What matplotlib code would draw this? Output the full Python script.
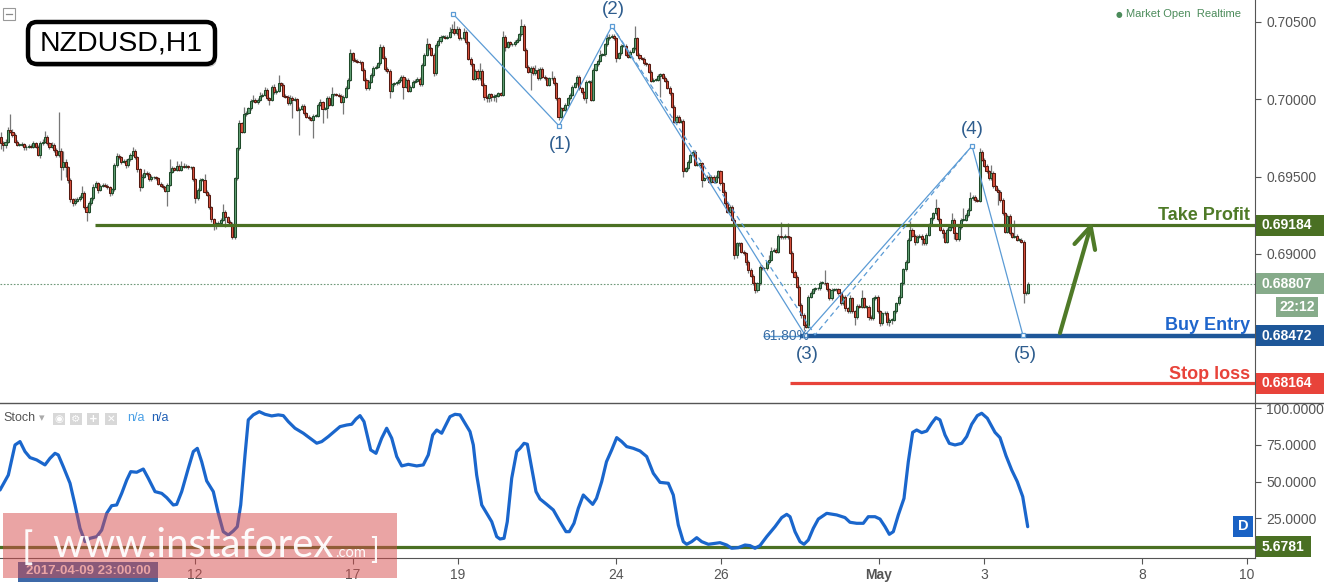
import numpy as np
import matplotlib
matplotlib.use("Agg")
import matplotlib.pyplot as plt
from matplotlib.patches import Rectangle, FancyBboxPatch
from matplotlib.lines import Line2D
from matplotlib.transforms import IdentityTransform

plt.rcParams['font.family'] = ['Liberation Sans', 'DejaVu Sans']

W, H = 1324, 582

# ---------------- data ----------------
PRICE_BASE = 0.68
PIP = 0.0001
FIRST_OPEN_PIPS = 175.9
# hourly closes, in pips above 0.68000
close_seg1 = [171.6, 170.5, 172.6, 180.2, 179.1, 176.9, 172.6, 170.5, 170.5, 170.9,
              169.0, 169.4, 169.8, 169.2, 171.6, 169.4, 164.0, 171.6, 172.6, 175.4,
              171.6, 169.4, 170.5, 167.2, 164.0, 166.8, 156.0, 159.7, 156.0, 147.9,
              135.4, 132.8, 134.5, 135.4, 137.1, 139.7, 130.6, 127.4, 132.8, 136.0,
              143.5, 145.7, 141.4, 144.0, 144.6, 144.2, 143.1, 139.2, 141.8, 157.5,
              163.4, 162.5, 159.7, 160.1, 157.5, 161.2, 164.0, 166.8, 162.5, 154.7,
              143.5, 150.0, 152.6, 151.7, 148.3, 149.6, 149.6, 149.0, 145.3, 144.0,
              143.1, 141.0, 144.6, 153.2, 155.4, 154.3, 156.9, 154.3, 156.9, 156.5,
              156.8, 156.0, 156.0, 148.3, 136.0, 141.4, 147.9, 147.9, 140.3, 138.2,
              130.2, 122.4, 119.4, 119.4, 120.0, 122.0, 127.4, 123.7, 120.9, 119.4,
              110.8, 148.9, 168.3, 184.5, 179.1, 190.3, 191.4, 194.2, 199.1, 199.6,
              198.5]
close_seg2 = [199.6, 202.4, 202.8, 206.0, 200.7, 199.6, 208.2, 204.5, 205.4, 210.4,
              209.3, 202.4, 201.7, 197.4, 201.1, 199.6, 200.0, 193.1, 193.8, 195.9,
              191.0, 188.8, 187.7, 186.7, 189.5, 189.5, 196.4, 198.1, 193.8, 194.2,
              201.1, 196.4, 203.2, 203.2, 202.8, 202.4, 198.5, 201.7, 207.6, 212.5,
              229.8, 225.4, 224.8, 224.4, 223.9, 219.0, 212.5, 207.1, 211.4, 215.7,
              220.5, 221.1, 223.3, 234.1, 227.0, 219.6, 218.3, 205.4, 209.7, 210.4,
              211.0, 212.5, 214.7, 208.2, 212.5, 205.4, 208.2, 211.4, 211.9, 213.2,
              209.7, 222.2, 228.7, 235.6, 233.0, 228.7, 216.8, 235.1, 237.7, 240.5,
              240.5, 239.9, 240.5, 243.8, 245.5, 242.7, 245.5, 239.5, 239.5, 243.8,
              236.9, 226.1, 222.6, 213.2, 218.3, 213.6, 218.3, 209.3, 201.7, 201.1,
              203.2, 201.7, 202.4, 202.4, 203.9, 202.8, 240.5]
close_seg3 = [234.1, 236.9, 235.6, 235.6, 237.3, 238.4, 242.0, 247.6, 231.9, 221.1,
              217.9, 220.5, 216.8, 219.0, 213.6, 219.6, 214.7, 213.6, 209.3, 213.6,
              214.0, 210.4, 200.7, 188.8, 194.2, 193.1, 196.4, 200.7, 202.8, 208.2,
              210.4, 214.7, 207.1, 204.5, 200.7, 211.4, 211.4, 199.6, 219.0, 222.6,
              224.8, 228.7, 229.1, 235.6, 239.5, 240.5, 241.2, 239.5, 227.0, 229.8,
              234.7, 234.7, 228.7, 227.6, 230.8, 233.0, 239.5, 228.7, 226.5, 226.1,
              223.3, 222.6, 217.9, 211.9, 212.5, 212.5, 215.3, 216.2, 214.0, 211.9,
              207.6, 203.9, 195.3, 185.6, 188.8, 185.6, 186.0, 153.7, 155.4, 159.7,
              164.0, 166.2, 157.6, 157.6, 158.6, 147.9, 148.9, 150.0, 146.8, 150.0,
              146.8, 150.0, 153.3, 145.7, 140.3, 132.8, 127.4, 130.6, 122.0, 99.4,
              106.9, 106.9, 101.5, 100.5, 95.1, 89.7, 86.0, 81.1, 76.7, 81.1,
              91.8, 90.8, 90.8, 94.6, 96.2]
close_seg4 = [102.2, 102.6, 101.5, 111.7, 110.8, 110.8, 111.7, 110.8, 100.9, 88.6,
              85.4, 78.9, 67.1, 60.6, 54.1, 53.0, 72.4, 75.0, 77.2, 77.8,
              77.8, 81.5, 81.5, 81.1, 77.2, 71.4, 76.8, 77.2, 77.2, 74.6,
              68.1, 72.4, 64.9, 62.8, 71.4, 62.8, 59.1, 66.4, 66.0, 71.4,
              66.0, 66.0, 59.5, 58.4, 71.4, 72.4, 62.8, 55.2, 61.7, 62.1,
              56.3, 57.4, 57.4, 62.8, 68.1, 72.4, 81.1, 90.1, 95.1, 109.1,
              115.6, 111.7, 108.0, 111.2, 111.7, 109.5, 106.9, 112.3, 118.8, 123.1,
              126.3, 129.6, 122.4, 115.6, 113.4, 108.0, 115.6, 117.7, 122.0, 113.4,
              109.5, 117.3, 122.0, 122.0, 125.2, 128.5, 136.0, 137.1, 134.9, 134.5,
              166.2, 160.8, 156.9, 153.3, 149.0, 152.6, 143.6, 141.4, 140.3, 134.9,
              126.3, 114.5, 124.6, 113.4, 111.2, 111.7, 109.1, 109.1, 108.0, 74.6,
              75.0, 80.6]

# upper / lower wick lengths in pips (beyond the body)
wick_up_seg1 = [3, 1.5, 1.5, 2, 10, 1.5, 1, 1, 1, 1.5,
                1, 1, 1, 1, 1.5, 1, 1, 1.5, 1.5, 4,
                1.5, 1, 2, 1, 1, 25, 1.5, 7, 1.5, 1,
                1, 1, 1.5, 1.5, 1, 4, 1, 1, 1.5, 1,
                2, 1.5, 1, 1.5, 1.5, 1, 1, 1, 1, 1,
                2, 1.5, 1, 1, 1, 1, 1.5, 2.6, 1, 1,
                1, 1.5, 2.5, 1, 1, 1.5, 1, 1, 1, 1,
                1, 1, 1, 8, 1.5, 1, 3, 1, 3, 2,
                1.5, 1, 1, 1, 1, 1, 1, 1, 4, 1,
                1, 1, 1, 1, 1, 1, 5, 1, 1, 1,
                1, 1, 1, 2, 1, 5, 1, 1, 1, 3,
                1]
wick_dn_seg1 = [4, 4, 2, 1, 1, 1, 1, 1, 1, 1,
                2, 1.5, 1, 1, 1, 1, 1, 2, 1, 1,
                1, 1.5, 1, 1, 1.5, 1.5, 8, 2, 6, 2,
                2, 2, 1, 1, 1, 1, 1.5, 6, 1, 1,
                1, 1, 2, 1, 1, 1, 1, 1.5, 1, 1,
                1, 1, 1.5, 1, 2, 1, 1, 1, 1, 1.5,
                2.5, 1, 1, 1.5, 1, 1, 1, 1, 1, 1,
                1, 1, 10, 1, 1, 1, 1, 1, 1, 1,
                1, 1, 1, 1, 3, 1, 1, 1, 1, 1,
                1, 1.5, 4, 3, 1, 1, 1, 6, 1, 1,
                1.3, 1, 1, 1, 1, 1, 1, 1, 1, 1,
                1]
wick_up_seg2 = [1.5, 2, 1.5, 2, 1, 1, 1, 2, 1, 5,
                1, 1, 1, 1, 1.5, 1, 1.5, 1, 1, 1,
                1, 1, 1, 1, 1, 1, 1, 2, 1, 1,
                1, 1, 5, 1, 1, 1, 1, 1, 1, 1,
                3, 1, 1, 1, 1, 1, 1, 1, 1, 1,
                1, 1, 1, 1.5, 1, 1, 1, 1, 1, 1,
                1, 1, 1, 1, 1, 1, 1, 1, 1, 1,
                1, 1, 1, 4, 1, 1, 1, 1, 1, 1,
                1, 1, 1, 3, 3, 5, 2, 1, 1, 2,
                1, 1, 1, 1, 1, 1, 5, 1, 1, 1,
                1, 1, 1, 1, 1, 1, 3.5]
wick_dn_seg2 = [1.5, 1, 1, 1, 1, 3, 1, 1, 1, 1,
                1, 1, 1, 1, 1, 12, 1, 1, 16, 1,
                1, 1, 1, 1, 12, 1, 1, 1, 9, 1,
                6, 1, 1, 1, 1, 1, 1, 8, 1, 1,
                1, 1, 1, 1, 1, 1, 1, 1, 1, 1,
                1, 1, 1, 1, 1, 1, 1, 4.7, 1, 1,
                1, 1, 1, 8, 1, 1, 1, 1, 1, 1,
                1, 1, 1, 1, 1, 1, 2, 1, 1, 1,
                1, 1, 1, 1, 1, 1, 1, 1, 1, 1,
                1, 1, 1, 1, 1, 1, 1, 1, 2, 3,
                3, 3, 3, 4, 1, 1, 1]
wick_up_seg3 = [1, 1, 1, 1, 1, 1, 1, 4.4, 1, 1,
                1, 1, 1, 3, 1, 1, 1, 1, 1, 1,
                4, 1, 1, 1, 1, 1, 1, 1, 1, 1,
                1, 1, 1, 1, 1, 1, 1, 1, 1, 1,
                1, 3, 1, 1, 3, 2, 1, 1, 1, 1,
                1, 1, 1, 1, 1, 1, 8, 1, 1, 1,
                1, 1, 1, 1, 1, 1, 1, 1, 1, 1,
                1, 1, 1, 1, 1, 1, 1, 1, 1, 1,
                1, 1, 1, 1, 1, 1, 1, 1, 1, 1,
                1, 1, 1, 1, 1, 1, 1, 1, 1, 1,
                1, 1, 1, 1, 1, 1, 1, 1, 1, 1,
                1, 1, 1, 1, 3]
wick_dn_seg3 = [3, 1, 1, 1, 1, 1, 1, 1, 1, 1,
                1, 12, 1, 1, 1, 1, 1, 1, 1, 1,
                1, 1, 1, 2, 1, 1, 1, 1, 1, 1,
                1, 1, 1, 1, 1, 3, 1, 1, 1, 1,
                1, 1, 1, 1, 1, 1, 1, 1, 3, 1,
                1, 1, 1, 1, 1, 1, 1, 1, 1, 1,
                1, 1, 1, 1, 1, 1, 1, 14, 1, 1,
                1, 1, 1, 1, 1, 1, 1, 4, 1, 1,
                1, 1, 1, 1, 1, 4.4, 1, 1, 1, 1,
                1, 1, 1, 1, 1, 1, 1, 1, 1, 3,
                2, 2, 1, 1, 2, 2, 1, 1, 2, 1,
                1, 1, 1, 1, 1]
wick_up_seg4 = [2.6, 1, 1, 1, 9, 1, 1, 8, 1, 1,
                1, 1, 1, 1, 1, 1, 1, 1, 1, 1,
                1, 1, 1, 8, 1, 1, 1, 1, 1, 1,
                1, 1, 1, 1, 2, 1, 1, 1, 1, 5,
                1, 1, 1, 1, 1, 1, 1, 1, 1, 1,
                1, 1, 1, 1, 1, 1, 1, 1, 1, 1,
                6, 1, 1, 1, 1, 1, 1, 1, 1, 1,
                1, 6, 1, 1, 1, 1, 1, 1, 4.3, 1,
                1, 1, 1, 7.6, 1, 1, 4, 1, 1, 1,
                2, 1, 1, 1, 1, 5, 1, 1, 1, 1,
                1, 1, 1, 1, 1, 10, 1, 1, 1, 1,
                1, 1.5]
wick_dn_seg4 = [1, 1, 1, 1, 1, 1, 1, 1, 1, 1,
                1, 1, 1, 2, 3, 1, 1, 1, 1, 1,
                1, 1, 1, 1, 1, 1.5, 1, 1, 1, 1,
                1, 1, 2, 1, 1, 1, 5, 1, 1, 1,
                1, 1, 2, 1, 1, 1, 1, 2, 1, 1,
                2, 3, 3, 1, 1, 1, 1, 1, 1, 1,
                1, 1, 2, 1, 1, 3.6, 1, 1, 1, 1,
                1, 1, 1, 1, 3, 1, 1, 1, 1, 3.5,
                1, 1, 1, 1, 1, 1, 1, 1, 1, 1,
                1, 1, 1, 1, 1, 1, 1, 1, 8.6, 1,
                1, 1, 1, 1, 1, 1, 1, 1, 1, 6.5,
                1, 1]

# time axis: days counted from 12 Apr 00:00 in trading-day units
FIRST_BAR_DAY = -3.69
LAST_BAR_DAY = 15.84
day_ticks = [0, 3, 5, 8, 10, 13, 15, 18, 20]
day_labels = ['12', '17', '19', '24', '26', 'May', '3', '8', '10']
price_ticks = [0.705, 0.700, 0.695, 0.690]
stoch_ticks = [25, 50, 75, 100]

TAKE_PROFIT = 0.69184
BUY_ENTRY = 0.68472
STOP_LOSS = 0.68164
LAST_PRICE = 0.68807
STOCH_LAST = 5.6781

wave_day = [4.905, 6.920, 7.928, 11.597, 14.772, 15.741]
wave_price = [0.70552, 0.69828, 0.70474, 0.68476, 0.69698, 0.68473]
guide_day = [7.928, 11.787, 14.677]
guide_price = [0.70474, 0.68476, 0.69660]
wave_labels = ['(1)', '(2)', '(3)', '(4)', '(5)']
wave_label_day = [6.939, 7.947, 11.635, 14.772, 15.779]
wave_label_price = [0.69705, 0.70578, 0.68347, 0.69802, 0.68347]

stoch_day = [-3.707, -3.549, -3.422, -3.327, -3.232, -3.137, -3.010, -2.852, -2.757, -2.662,
             -2.599, -2.504, -2.376, -2.281, -2.186, -2.091, -1.996, -1.869, -1.774, -1.679,
             -1.584, -1.489, -1.394, -1.298, -1.222, -1.108, -0.983, -0.888, -0.760, -0.633,
             -0.538, -0.413, -0.348, -0.253, -0.127, -0.032, 0.044, 0.127, 0.222, 0.348,
             0.443, 0.538, 0.633, 0.728, 0.804, 0.869, 0.951, 1.013, 1.108, 1.222,
             1.331, 1.458, 1.584, 1.679, 1.774, 1.901, 2.059, 2.186, 2.314, 2.409,
             2.534, 2.629, 2.757, 2.884, 2.979, 3.061, 3.137, 3.213, 3.340, 3.441,
             3.549, 3.644, 3.740, 3.835, 3.930, 4.055, 4.215, 4.340, 4.435, 4.519,
             4.595, 4.690, 4.785, 4.848, 4.943, 5.038, 5.133, 5.228, 5.291, 5.355,
             5.451, 5.546, 5.641, 5.736, 5.798, 5.875, 5.937, 6.021, 6.116, 6.179,
             6.255, 6.318, 6.401, 6.483, 6.559, 6.686, 6.812, 6.939, 7.053, 7.116,
             7.205, 7.287, 7.382, 7.477, 7.561, 7.633, 7.732, 7.823, 7.922, 8.017,
             8.112, 8.207, 8.333, 8.460, 8.587, 8.713, 8.840, 8.998, 9.093, 9.188,
             9.283, 9.348, 9.443, 9.538, 9.633, 9.759, 9.886, 9.981, 10.108, 10.203,
             10.329, 10.456, 10.551, 10.646, 10.741, 10.869, 11.027, 11.154, 11.249, 11.312,
             11.407, 11.502, 11.578, 11.660, 11.755, 11.850, 12.010, 12.200, 12.357, 12.452,
             12.580, 12.705, 12.800, 12.928, 13.023, 13.118, 13.200, 13.276, 13.371, 13.479,
             13.561, 13.644, 13.720, 13.816, 13.911, 14.006, 14.087, 14.163, 14.259, 14.340,
             14.449, 14.576, 14.671, 14.766, 14.873, 14.956, 15.063, 15.209, 15.304, 15.418,
             15.527, 15.633, 15.736, 15.831]
stoch_val = [44.3, 54.5, 75.0, 77.3, 70.5, 66.4, 64.8, 61.4, 65.9, 69.3,
             68.2, 60.2, 48.9, 34.1, 18.2, 9.1, 11.4, 12.5, 17.0, 28.4,
             33.6, 34.1, 42.0, 51.1, 56.8, 56.4, 58.6, 52.3, 43.2, 42.0,
             39.1, 34.1, 34.5, 43.2, 59.1, 70.5, 72.7, 63.6, 50.5, 43.2,
             28.4, 15.9, 13.6, 16.4, 19.3, 34.1, 68.2, 92.1, 95.5, 97.7,
             95.9, 94.8, 95.5, 95.0, 90.9, 86.4, 83.0, 79.6, 76.2, 77.3,
             80.7, 83.6, 87.5, 88.6, 89.1, 92.7, 95.0, 90.9, 71.6, 69.3,
             79.6, 86.4, 79.6, 67.1, 60.7, 61.8, 60.7, 61.4, 68.2, 81.8,
             85.2, 83.0, 89.8, 94.3, 95.9, 95.5, 89.8, 84.1, 75.0, 54.5,
             34.1, 28.4, 22.7, 12.5, 10.9, 11.4, 22.7, 52.3, 70.5, 72.7,
             76.1, 75.5, 59.1, 43.2, 38.2, 34.5, 30.7, 22.7, 15.9, 15.9,
             21.6, 31.8, 40.9, 37.5, 34.5, 38.6, 50.0, 63.6, 71.6, 80.0,
             77.3, 73.9, 72.7, 70.9, 67.1, 55.7, 49.5, 48.9, 40.9, 20.5,
             9.1, 7.3, 9.1, 11.8, 9.1, 7.3, 7.9, 8.4, 6.8, 4.6,
             5.0, 6.8, 6.4, 4.6, 6.4, 12.5, 19.3, 25.5, 27.7, 26.1,
             15.9, 9.1, 7.3, 10.2, 18.2, 24.5, 28.4, 27.3, 25.5, 22.3,
             21.6, 21.6, 26.1, 26.1, 24.5, 19.3, 14.1, 15.9, 27.3, 38.6,
             63.6, 83.6, 85.2, 83.4, 84.5, 89.8, 93.6, 92.1, 81.8, 76.1,
             75.0, 76.1, 80.7, 89.1, 95.0, 96.6, 93.2, 83.6, 80.0, 67.7,
             57.9, 50.0, 39.8, 19.3]

# ---------------- layout constants (pixels) ----------------
DAY0_PX, PX_PER_DAY = 195.0, 52.6
PLOT_RIGHT = 1255
MAIN_BOTTOM = 403
STOCH_BOTTOM = 558
X_LEFT = (0 - DAY0_PX) / PX_PER_DAY
X_RIGHT = (PLOT_RIGHT - DAY0_PX) / PX_PER_DAY

GREEN_FILL, GREEN_EDGE = '#62a074', '#1f4a2a'
RED_FILL, RED_EDGE = '#d9503c', '#551a11'
OLIVE = '#4a7023'
WAVE_BLUE = '#5b9bd5'
LABEL_BLUE = '#2e5d8e'
AXIS_GRAY = '#555555'

fig = plt.figure(figsize=(W / 100, H / 100), dpi=100, facecolor='white')
ID = IdentityTransform()

ax = fig.add_axes([0, (H - MAIN_BOTTOM) / H, PLOT_RIGHT / W, MAIN_BOTTOM / H])
ax2 = fig.add_axes([0, (H - STOCH_BOTTOM) / H, PLOT_RIGHT / W, (STOCH_BOTTOM - MAIN_BOTTOM) / H])

# ---------------- candles ----------------
close_pips = close_seg1 + close_seg2 + close_seg3 + close_seg4
wick_up = wick_up_seg1 + wick_up_seg2 + wick_up_seg3 + wick_up_seg4
wick_dn = wick_dn_seg1 + wick_dn_seg2 + wick_dn_seg3 + wick_dn_seg4
assert len(close_pips) == len(wick_up) == len(wick_dn), (len(close_pips), len(wick_up), len(wick_dn))

close = PRICE_BASE + np.array(close_pips) * PIP
opens = np.concatenate([[PRICE_BASE + FIRST_OPEN_PIPS * PIP], close[:-1]])
hi = np.maximum(opens, close) + np.array(wick_up) * PIP
lo = np.minimum(opens, close) - np.array(wick_dn) * PIP
n = len(close)
t = np.linspace(FIRST_BAR_DAY, LAST_BAR_DAY, n)
step = t[1] - t[0]
is_up = close >= opens
body_lo = np.minimum(opens, close)
body_h = np.maximum(np.abs(close - opens), 0.35 * PIP)

ax.vlines(t, lo, hi, color='#777777', lw=0.9, zorder=2)
ax.bar(t, body_h, bottom=body_lo, width=step * 0.9,
       color=[GREEN_FILL if u else RED_FILL for u in is_up],
       edgecolor=[GREEN_EDGE if u else RED_EDGE for u in is_up],
       linewidth=0.75, zorder=3)

ax.set_xlim(X_LEFT, X_RIGHT)
ax.set_ylim(0.68036, 0.70642)
for s in ['top', 'left', 'bottom']:
    ax.spines[s].set_visible(False)
ax.spines['right'].set_color(AXIS_GRAY)
ax.yaxis.tick_right()
ax.set_yticks(price_ticks)
ax.set_yticklabels([f'{v:.5f}' for v in price_ticks])
ax.tick_params(axis='y', direction='out', length=4, color=AXIS_GRAY,
               labelcolor=AXIS_GRAY, labelsize=10, pad=4)
ax.tick_params(axis='x', bottom=False, labelbottom=False)

# levels
ax.axhline(LAST_PRICE, color='#6f9a7a', lw=0.8, ls=(0, (1.5, 1.5)), zorder=1)
ax.hlines(TAKE_PROFIT, -1.901, X_RIGHT, color=OLIVE, lw=2.3, zorder=4)
ax.hlines(BUY_ENTRY, 10.79, 11.50, color=WAVE_BLUE, lw=1.0, zorder=4)
ax.hlines(BUY_ENTRY, 11.50, X_RIGHT, color='#1e5799', lw=3.2, zorder=4)
ax.hlines(STOP_LOSS, 11.312, X_RIGHT, color='#e8433a', lw=2.3, zorder=4)

# Elliott waves
ax.plot(guide_day, guide_price, color=WAVE_BLUE, lw=0.9, ls=(0, (4, 3)), zorder=5)
ax.plot(wave_day, wave_price, color=WAVE_BLUE, lw=0.9, marker='s', ms=3.5,
        mfc='white', mec=WAVE_BLUE, mew=0.9, zorder=5)
for lbl, d, p in zip(wave_labels, wave_label_day, wave_label_price):
    ax.text(d, p, lbl, color=LABEL_BLUE, fontsize=13.5, ha='center', va='center', zorder=6)
ax.text(11.236, BUY_ENTRY, '61.80%', color='#3a6ea5', fontsize=10, ha='center', va='center', zorder=6)

# arrow
ax.annotate('', xy=(17.053, 0.69207), xytext=(16.445, 0.68489),
            arrowprops=dict(arrowstyle='->,head_length=0.7,head_width=0.35', lw=3,
                            color='#4f7a28', mutation_scale=22, shrinkA=0, shrinkB=0),
            zorder=6)

# ---------------- stochastic ----------------
ax2.plot(stoch_day, stoch_val, color='#1a66cc', lw=2.3, solid_joinstyle='round',
         solid_capstyle='round', zorder=3)
ax2.axhline(STOCH_LAST, color=OLIVE, lw=2.3, zorder=2)
ax2.set_xlim(X_LEFT, X_RIGHT)
ax2.set_ylim(-2.05, 103.6)
for s in ['top', 'left']:
    ax2.spines[s].set_visible(False)
for s in ['right', 'bottom']:
    ax2.spines[s].set_color(AXIS_GRAY)
ax2.yaxis.tick_right()
ax2.set_yticks(stoch_ticks)
ax2.set_yticklabels([f'{v:.4f}' for v in stoch_ticks])
ax2.set_xticks(day_ticks)
ax2.set_xticklabels(day_labels)
for lbl in ax2.get_xticklabels():
    if lbl.get_text() == 'May':
        lbl.set_fontweight('bold')
ax2.tick_params(axis='both', direction='out', length=4, color=AXIS_GRAY,
                labelcolor=AXIS_GRAY, labelsize=10)
ax2.tick_params(axis='y', pad=4)
ax2.tick_params(axis='x', pad=3)

# ---------------- figure-level decoration (pixel coords) ----------------
def fy(y):
    return H - y

fig.add_artist(Line2D([0, W], [fy(MAIN_BOTTOM), fy(MAIN_BOTTOM)], transform=ID,
                      color=AXIS_GRAY, lw=1.0, zorder=5))


def flag(axis, value, text, face, x0=1256, x1=W, h=21, size=10):
    yd = axis.transData.transform((0, value))[1]
    fig.add_artist(Rectangle((x0, yd - h / 2), x1 - x0, h, transform=ID,
                             facecolor=face, edgecolor='none', zorder=6))
    fig.text(x0 + 6, yd, text, transform=ID, color='white', fontsize=size,
             fontweight='bold', ha='left', va='center', zorder=7)
    return yd


y_tp = flag(ax, TAKE_PROFIT, f'{TAKE_PROFIT:.5f}', OLIVE)
y_lp = flag(ax, LAST_PRICE, f'{LAST_PRICE:.5f}', '#86ab8a')
y_be = flag(ax, BUY_ENTRY, f'{BUY_ENTRY:.5f}', '#1e5799')
y_sl = flag(ax, STOP_LOSS, f'{STOP_LOSS:.5f}', '#e8433a')
flag(ax2, STOCH_LAST, f'{STOCH_LAST:.4f}', OLIVE, x1=1311)

# countdown box
fig.add_artist(Rectangle((1276, y_lp - 33), 42, 20, transform=ID,
                         facecolor='#86ab8a', edgecolor='none', zorder=6))
fig.text(1297, y_lp - 23, '22:12', transform=ID, color='white', fontsize=10,
         fontweight='bold', ha='center', va='center', zorder=7)

fig.text(1250, y_tp + 10, 'Take Profit', transform=ID, color='#4e7a27', fontsize=13,
         fontweight='bold', ha='right', va='center', zorder=7)
fig.text(1250, y_be + 10, 'Buy Entry', transform=ID, color='#1f66cc', fontsize=13,
         fontweight='bold', ha='right', va='center', zorder=7)
fig.text(1250, y_sl + 9, 'Stop loss', transform=ID, color='#e8433a', fontsize=13,
         fontweight='bold', ha='right', va='center', zorder=7)

# "D" box in stoch pane
fig.add_artist(Rectangle((1233, fy(537)), 20, 21, transform=ID, facecolor='#1a62c4',
                         edgecolor='none', zorder=6))
fig.text(1243, fy(526.5), 'D', transform=ID, color='white', fontsize=10.5,
         fontweight='bold', ha='center', va='center', zorder=7)

# Market open
fig.text(1119, fy(14), '●', transform=ID, color='#4b8b5a', fontsize=5.5,
         ha='center', va='center', family='DejaVu Sans', zorder=7)
fig.text(1126, fy(14), 'Market Open  Realtime', transform=ID, color='#4b8b5a',
         fontsize=8, ha='left', va='center', zorder=7)

# top-left icon
fig.add_artist(Rectangle((3, fy(20)), 12, 12, transform=ID, fill=False,
                         edgecolor='#999999', lw=0.8, zorder=7))
fig.add_artist(Line2D([6, 12], [fy(14), fy(14)], transform=ID, color='#888888', lw=0.9, zorder=7))

# title box
fig.add_artist(FancyBboxPatch((30, fy(67)), 187, 42, boxstyle='round,pad=0,rounding_size=9',
                              transform=ID, facecolor='#000000', edgecolor='none',
                              alpha=0.22, zorder=7))
fig.add_artist(FancyBboxPatch((28, fy(64)), 187, 42, boxstyle='round,pad=0,rounding_size=9',
                              transform=ID, facecolor='white', edgecolor='black',
                              lw=3.2, zorder=8))
fig.text(121.5, fy(43), 'NZDUSD,H1', transform=ID, color='black', fontsize=20.5,
         ha='center', va='center', zorder=9)

# stoch legend
fig.text(3, fy(418), 'Stoch', transform=ID, color=AXIS_GRAY, fontsize=9,
         ha='left', va='center', zorder=7)
fig.text(42, fy(418), '▾', transform=ID, color='#aaaaaa', fontsize=8,
         ha='center', va='center', family='DejaVu Sans', zorder=7)
for x0, sym in zip([53, 70, 87, 105], ['◉', '⚙', '+', '✕']):
    fig.add_artist(Rectangle((x0, fy(425)), 12, 12, transform=ID, facecolor='#d8d8d8',
                             edgecolor='none', zorder=7))
    fig.text(x0 + 6, fy(419), sym, transform=ID, color='white', fontsize=7.5,
             ha='center', va='center', family='DejaVu Sans', fontweight='bold', zorder=8)
fig.text(127, fy(418), 'n/a', transform=ID, color='#4aa0e6', fontsize=9,
         ha='left', va='center', zorder=7)
fig.text(151, fy(418), 'n/a', transform=ID, color='#1f5fb5', fontsize=9,
         ha='left', va='center', zorder=7)

# crosshair date label
fig.add_artist(Rectangle((18, 0), 140, fy(562), transform=ID, facecolor='#3d69a8',
                         edgecolor='none', zorder=8))
fig.text(88, fy(571.5), '2017-04-09 23:00:00', transform=ID, color='white', fontsize=9.5,
         fontweight='bold', ha='center', va='center', zorder=9)

# watermark
fig.add_artist(Rectangle((3, fy(578)), 394, 65, transform=ID, facecolor='#d74b4b',
                         edgecolor='none', alpha=0.5, zorder=10))
wm = dict(transform=ID, color='white', alpha=0.95, va='baseline', zorder=11,
          family=['Lato', 'Liberation Sans'])
fig.text(22, fy(559), '[', fontsize=27, **wm)
fig.text(52, fy(557), 'www.instaforex', fontsize=29, **wm)
fig.text(335, fy(557), '.com', fontsize=10.5, **wm)
fig.text(370, fy(559), ']', fontsize=20, **wm)

fig.savefig('out.png', dpi=100, facecolor='white')
